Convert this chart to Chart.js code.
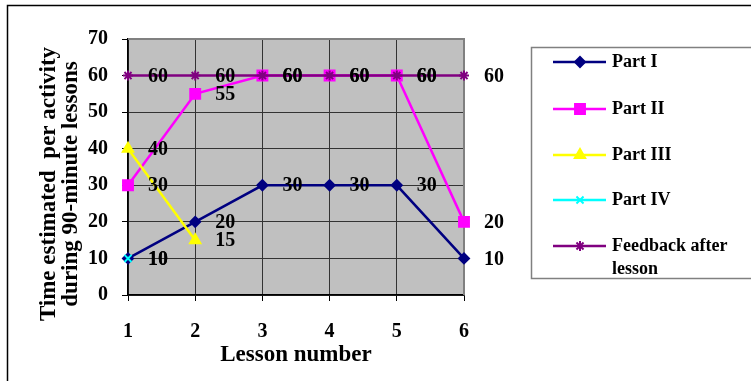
<!DOCTYPE html>
<html>
<head>
<meta charset="utf-8">
<script src="https://cdn.jsdelivr.net/npm/chart.js@4.4.1/dist/chart.umd.min.js"></script>
<style>
  html, body { margin: 0; padding: 0; background: #fff; }
  #wrap { position: relative; width: 751px; height: 381px; }
</style>
</head>
<body>
<div id="wrap"><canvas id="lessonChart" width="751" height="381"></canvas></div>
<script>
// Данные графика
const lessons = ['1', '2', '3', '4', '5', '6'];
const partI = [10, 20, 30, 30, 30, 10];
const partII = [30, 55, 60, 60, 60, 20];
const partIII = [40, 15, null, null, null, null];
const partIV = [10, null, null, null, null, null];
const feedback = [60, 60, 60, 60, 60, 60];

const seriesNames = ['Part I', 'Part II', 'Part III', 'Part IV', 'Feedback after lesson'];
const yTicks = [0, 10, 20, 30, 40, 50, 60, 70];

const FONT = "'Liberation Serif', 'Times New Roman', serif";

// Фон области построения и рамки
const backgroundPlugin = {
  id: 'plotBackground',
  beforeDraw(chart) {
    const ctx = chart.ctx;
    const a = chart.chartArea;
    ctx.save();
    ctx.fillStyle = '#fff';
    ctx.fillRect(0, 0, chart.width, chart.height);
    // внешняя рамка
    ctx.strokeStyle = '#000';
    ctx.lineWidth = 1.5;
    ctx.strokeRect(7.5, 5.5, 800, 400);
    ctx.fillStyle = '#c0c0c0';
    ctx.fillRect(a.left, a.top, a.right - a.left, a.bottom - a.top);
    ctx.restore();
  },
  beforeDatasetsDraw(chart) {
    const ctx = chart.ctx;
    const a = chart.chartArea;
    ctx.save();
    ctx.strokeStyle = '#808080';
    ctx.lineWidth = 2;
    ctx.beginPath();
    ctx.moveTo(a.left, a.top);
    ctx.lineTo(a.right, a.top);
    ctx.lineTo(a.right, a.bottom);
    ctx.stroke();
    ctx.restore();
  }
};

// Подписи значений справа от точек
const valueLabelsPlugin = {
  id: 'valueLabels',
  afterDatasetsDraw(chart) {
    const ctx = chart.ctx;
    ctx.save();
    ctx.font = 'bold 20px ' + FONT;
    ctx.fillStyle = '#000';
    ctx.textAlign = 'left';
    ctx.textBaseline = 'middle';
    chart.data.datasets.forEach((ds, i) => {
      const meta = chart.getDatasetMeta(i);
      meta.data.forEach((pt, j) => {
        const v = ds.data[j];
        if (v === null || v === undefined) return;
        ctx.fillText(String(v), pt.x + 20, pt.y + 1);
      });
    });
    ctx.restore();
  }
};

// Заголовок оси Y в две строки
const yTitlePlugin = {
  id: 'yTitle',
  afterDraw(chart) {
    const ctx = chart.ctx;
    ctx.save();
    ctx.font = 'bold 23px ' + FONT;
    ctx.fillStyle = '#000';
    ctx.textAlign = 'center';
    ctx.textBaseline = 'middle';
    ctx.translate(0, 184);
    ctx.rotate(-Math.PI / 2);
    ctx.fillText('Time estimated  per activity', 0, 49);
    ctx.fillText('during 90-minute lessons', 0, 71);
    ctx.restore();
  }
};

// Легенда в рамке
const legendBoxPlugin = {
  id: 'legendBox',
  afterDraw(chart) {
    const ctx = chart.ctx;
    const rows = [62, 109, 155, 200, 246];
    ctx.save();
    ctx.strokeStyle = '#808080';
    ctx.lineWidth = 1.5;
    ctx.strokeRect(531.5, 47.5, 400, 231);
    ctx.font = 'bold 18px ' + FONT;
    ctx.textAlign = 'left';
    ctx.textBaseline = 'middle';
    chart.data.datasets.forEach((ds, i) => {
      const y = rows[i];
      ctx.strokeStyle = ds.borderColor;
      ctx.lineWidth = 2.5;
      ctx.beginPath();
      ctx.moveTo(553, y);
      ctx.lineTo(606, y);
      ctx.stroke();
      ctx.fillStyle = ds.borderColor;
      ctx.lineWidth = ds.pointBorderWidth;
      Chart.helpers.drawPoint(ctx, {
        pointStyle: ds.pointStyle,
        radius: ds.pointRadius,
        rotation: 0,
        borderWidth: ds.pointBorderWidth
      }, 580, y);
      ctx.fillStyle = '#000';
      if (i === 4) {
        ctx.fillText('Feedback after', 612, y);
        ctx.fillText('lesson', 612, y + 23);
      } else {
        ctx.fillText(seriesNames[i], 612, y);
      }
    });
    ctx.restore();
  }
};

// Серия: последние серии рисуются поверх (как в Excel)
function makeSeries(label, data, color, style, radius, order) {
  return {
    label: label,
    data: data,
    order: order,
    borderColor: color,
    backgroundColor: color,
    borderWidth: 2.5,
    pointStyle: style,
    pointRadius: radius,
    pointHoverRadius: radius,
    pointBorderWidth: 2,
    pointBackgroundColor: color,
    pointBorderColor: color,
    spanGaps: false,
    tension: 0,
    clip: false
  };
}

const ctx = document.getElementById('lessonChart');

window.lessonChart = new Chart(ctx, {
  type: 'line',
  data: {
    labels: lessons,
    datasets: [
      makeSeries(seriesNames[0], partI, '#000080', 'rectRot', 5, 4),
      makeSeries(seriesNames[1], partII, '#ff00ff', 'rect', 7, 3),
      makeSeries(seriesNames[2], partIII, '#ffff00', 'triangle', 6, 2),
      makeSeries(seriesNames[3], partIV, '#00ffff', 'crossRot', 5, 1),
      makeSeries(seriesNames[4], feedback, '#800080', 'star', 5, 0)
    ]
  },
  options: {
    responsive: false,
    animation: false,
    events: [],
    layout: {
      padding: { left: 0, top: 39, right: 287, bottom: 0 }
    },
    plugins: {
      legend: { display: false },
      tooltip: { enabled: false }
    },
    scales: {
      x: {
        offset: false,
        afterFit(scale) { scale.height = 86; },
        grid: {
          color: '#333',
          tickColor: '#000',
          tickLength: 6,
          lineWidth: 1
        },
        border: { color: '#000', width: 1.5 },
        ticks: {
          color: '#000',
          padding: 19,
          font: { family: FONT, size: 20, weight: 'bold' }
        },
        title: {
          display: true,
          text: 'Lesson number',
          color: '#000',
          padding: { top: 0, bottom: 12 },
          font: { family: FONT, size: 23, weight: 'bold' }
        }
      },
      y: {
        min: 0,
        max: 70,
        afterFit(scale) { scale.width = 128; },
        afterBuildTicks(scale) {
          scale.ticks = yTicks.map(v => ({ value: v }));
        },
        grid: {
          color: '#333',
          tickColor: '#000',
          tickLength: 6,
          lineWidth: 1
        },
        border: { color: '#000', width: 1.5 },
        ticks: {
          color: '#000',
          padding: 14,
          font: { family: FONT, size: 20, weight: 'bold' }
        }
      }
    }
  },
  plugins: [backgroundPlugin, valueLabelsPlugin, yTitlePlugin, legendBoxPlugin]
});
</script>
</body>
</html>
